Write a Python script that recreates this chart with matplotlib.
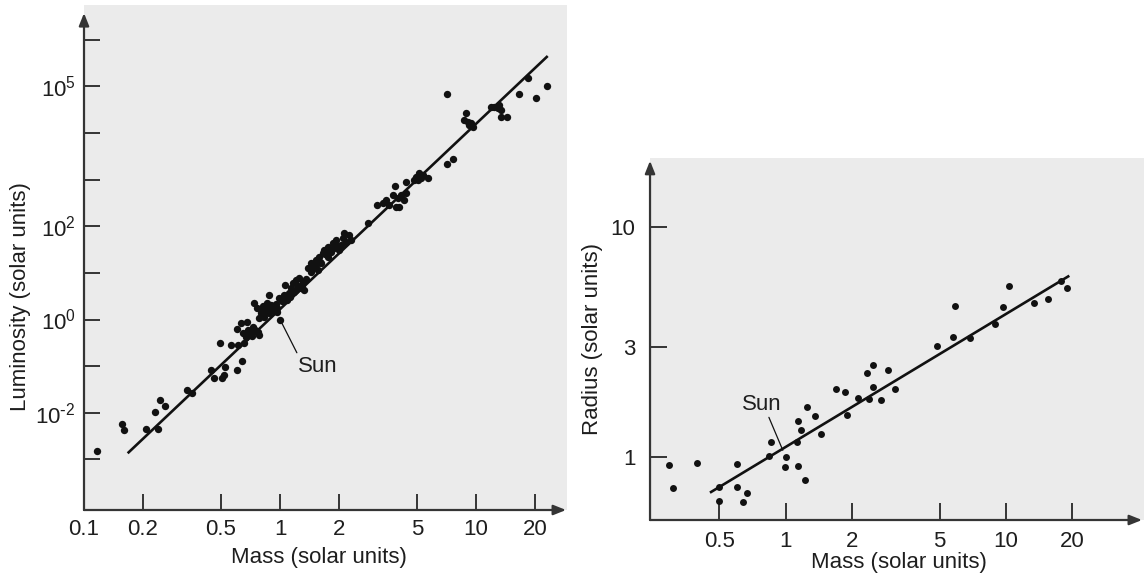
import matplotlib
matplotlib.use('Agg')
import matplotlib.pyplot as plt
from matplotlib.ticker import NullLocator

plt.rcParams['font.family'] = ['Liberation Sans', 'DejaVu Sans']
plt.rcParams['mathtext.default'] = 'regular'

# ---- mass-luminosity data (solar units) ----
lum_mass = [0.117, 0.156, 0.160, 0.207, 0.239, 0.231, 0.244, 0.258, 0.335, 0.356,
            0.445, 0.462, 0.506, 0.524, 0.520, 0.492, 0.562, 0.608, 0.638, 0.603,
            0.658, 0.632, 0.603, 0.647, 0.687, 0.711, 0.754, 0.671, 0.728, 0.781,
            0.739, 0.763, 0.800, 0.819, 0.858, 0.900, 0.932, 0.965, 0.879, 0.829,
            0.781, 0.876, 1.0, 0.992, 1.052, 1.095, 1.115, 1.064, 1.161, 1.207,
            1.254, 1.306, 1.280, 1.207, 1.138, 1.330, 1.384, 1.439, 1.496, 1.557,
            1.619, 1.439, 1.526, 1.587, 1.652, 1.683, 1.751, 1.820, 1.751, 1.857,
            1.931, 1.892, 2.007, 2.048, 2.128, 2.257, 2.302, 2.172, 2.822, 3.126,
            3.342, 3.474, 3.612, 3.876, 4.394, 3.758, 3.986, 4.143, 4.307, 4.394,
            3.907, 4.062, 4.941, 5.137, 5.042, 5.241, 5.346, 5.67, 4.843, 7.09,
            7.11, 7.66, 8.89, 8.714, 9.07, 9.43, 9.62, 9.24, 11.93, 12.40,
            13.15, 13.42, 12.90, 13.42, 14.39, 16.63, 18.49, 20.24, 22.95, 0.679,
            0.70, 0.74, 0.77, 0.72, 0.66, 0.84, 0.88, 0.92, 0.95, 0.86,
            0.80, 0.97, 1.02, 1.08, 1.12, 1.18, 1.24, 1.30, 1.35, 1.45,
            1.52, 1.60, 1.70, 1.78, 1.95, 2.10]
lum_lum = [0.00153, 0.00581, 0.0042, 0.00448, 0.00448, 0.0102, 0.0188, 0.0142, 0.0307, 0.0269,
           0.0825, 0.0564, 0.0548, 0.0971, 0.0645, 0.318, 0.284, 0.284, 0.129, 0.0825,
           0.309, 0.829, 0.616, 0.513, 0.595, 0.465, 0.567, 0.421, 0.690, 0.465,
           2.29, 1.765, 1.379, 1.948, 2.26, 2.05, 1.855, 1.449, 1.379, 1.13,
           1.077, 3.35, 1.0, 2.85, 3.35, 3.08, 3.65, 5.50, 5.98, 7.04,
           7.66, 6.47, 4.67, 4.30, 4.67, 4.30, 12.55, 10.6, 13.6, 11.5,
           16.1, 16.1, 18.9, 22.2, 26.3, 31.0, 22.2, 28.5, 36.5, 43.1,
           50.8, 33.7, 31.0, 39.7, 70.7, 65.0, 50.8, 46.7, 119, 286,
           321, 366, 286, 731, 905, 469, 398, 469, 366, 510,
           263, 263, 1158, 1370, 984, 1070, 1259, 1070, 984, 68900,
           2170, 2735, 26550, 19050, 17530, 16200, 13690, 14890, 36780, 35700,
           40000, 31240, 33970, 22440, 22440, 67860, 149600, 57370, 102200, 0.884,
           0.52, 0.62, 0.55, 0.44, 0.50, 1.55, 1.75, 1.6, 2.1, 2.0,
           1.6, 1.75, 2.5, 2.6, 3.0, 3.9, 5.2, 5.6, 7.5, 12.0,
           14.5, 17.5, 25.0, 30.0, 38.0, 55.0]
lum_fit_mass = [0.167, 23.2]
lum_fit_lum = [0.00135, 4.5e5]

lum_xticks = [0.1, 0.2, 0.5, 1, 2, 5, 10, 20]
lum_xlabels = ['0.1', '0.2', '0.5', '1', '2', '5', '10', '20']
lum_yticks = [1e-3, 1e-2, 1e-1, 1e0, 1e1, 1e2, 1e3, 1e4, 1e5, 1e6]
lum_ylabels = ['', r'$10^{\text{-}2}$', '', '$10^{0}$', '', '$10^{2}$', '', '',
               '$10^{5}$', '']

# ---- mass-radius data (solar units) ----
rad_mass = [0.297, 0.310, 0.396, 0.499, 0.499, 0.601, 0.601, 0.643, 0.667, 0.839,
            0.859, 0.992, 1.0, 1.124, 1.143, 1.143, 1.172, 1.226, 1.256, 1.365,
            1.449, 1.690, 1.862, 1.895, 2.126, 2.336, 2.400, 2.487, 2.503, 2.713,
            2.909, 3.149, 4.883, 5.736, 5.857, 6.873, 8.897, 9.73, 10.33, 13.41,
            15.57, 17.73, 18.88]
rad_radius = [0.920, 0.728, 0.936, 0.740, 0.643, 0.927, 0.736, 0.636, 0.697, 1.01,
              1.159, 0.902, 1.0, 1.155, 0.911, 1.431, 1.307, 0.794, 1.652, 1.509,
              1.260, 1.979, 1.920, 1.515, 1.797, 2.31, 1.789, 2.51, 2.019, 1.767,
              2.387, 1.967, 3.047, 3.315, 4.55, 3.282, 3.789, 4.507, 5.566, 4.691,
              4.869, 5.851, 5.422]
rad_fit_mass = [0.454, 19.4]
rad_fit_radius = [0.697, 6.15]

rad_xticks = [0.5, 1, 2, 5, 10, 20]
rad_xlabels = ['0.5', '1', '2', '5', '10', '20']
rad_yticks = [1, 3, 10]
rad_ylabels = ['1', '3', '10']

sun_mass, sun_value = 1.0, 1.0

BG = '#ebebeb'
INK = '#111111'
AXC = '#353535'
TXT = '#1e1e1e'
FS = 16


def style_axes(ax, xlim, ylim, xtip, ytip, ticklen, xpad, ypad):
    """log-log axes with arrow-headed axis lines and inward ticks"""
    ax.set_xscale('log')
    ax.set_yscale('log')
    ax.set_xlim(*xlim)
    ax.set_ylim(*ylim)
    ax.set_facecolor(BG)
    for s in ax.spines.values():
        s.set_visible(False)
    arrow = dict(arrowstyle='-|>,head_length=0.75,head_width=0.3',
                 color=AXC, lw=1.6, shrinkA=0, shrinkB=0)
    ax.annotate('', xy=(0, ytip), xytext=(0, 0), xycoords='axes fraction',
                arrowprops=arrow)
    ax.annotate('', xy=(xtip, 0), xytext=(0, 0), xycoords='axes fraction',
                arrowprops=arrow)
    ax.xaxis.set_minor_locator(NullLocator())
    ax.yaxis.set_minor_locator(NullLocator())
    ax.tick_params(which='major', direction='in', length=ticklen, width=1.4,
                   color=AXC, labelsize=FS, labelcolor=TXT)
    ax.tick_params(axis='x', pad=xpad)
    ax.tick_params(axis='y', pad=ypad)


fig = plt.figure(figsize=(11.44, 5.81), dpi=100)

# 左图: 质光关系
ax1 = fig.add_axes([0.07343, 0.1222, 0.4222, 0.8692])
style_axes(ax1, (0.1, 29.1), (10 ** -4.087, 10 ** 6.748), 0.998, 0.984,
           11.5, 6.5, 6)
ax1.set_xticks(lum_xticks, lum_xlabels)
ax1.set_yticks(lum_yticks, lum_ylabels)
ax1.xaxis.get_major_ticks()[0].tick1line.set_visible(False)
ax1.plot(lum_fit_mass, lum_fit_lum, color=INK, lw=1.9, solid_capstyle='butt')
ax1.plot(lum_mass, lum_lum, 'o', ms=5.3, mew=0, color=INK)
ax1.annotate('Sun', xy=(sun_mass, sun_value), xytext=(27.4, -33.5),
             textcoords='offset points', ha='center', va='center',
             fontsize=FS, color=TXT,
             arrowprops=dict(arrowstyle='-', lw=0.9, color=INK, shrinkA=0,
                             shrinkB=2, relpos=(0.0, 1.0)))
ax1.set_xlabel('Mass (solar units)', fontsize=FS, color=TXT)
ax1.set_ylabel('Luminosity (solar units)', fontsize=FS, color=TXT)
ax1.xaxis.set_label_coords(0.4865, -0.073)
ax1.yaxis.set_label_coords(-0.11, 0.4218)

# 右图: 质量-半径关系
ax2 = fig.add_axes([0.5682, 0.10499, 0.4318, 0.62255])
style_axes(ax2, (0.2427, 42.33), (0.5297, 19.99), 0.996, 0.993,
           12, 8, 10.5)
ax2.set_xticks(rad_xticks, rad_xlabels)
ax2.set_yticks(rad_yticks, rad_ylabels)
ax2.plot(rad_fit_mass, rad_fit_radius, color=INK, lw=1.9, solid_capstyle='butt')
ax2.plot(rad_mass, rad_radius, 'o', ms=5.0, mew=0, color=INK)
ax2.annotate('Sun', xy=(sun_mass, sun_value), xytext=(-17.1, 37.9),
             textcoords='offset points', ha='center', va='center',
             fontsize=FS, color=TXT,
             arrowprops=dict(arrowstyle='-', lw=0.9, color=INK, shrinkA=0,
                             shrinkB=5, relpos=(0.65, 0.0)))
ax2.set_xlabel('Mass (solar units)', fontsize=FS, color=TXT)
ax2.set_ylabel('Radius (solar units)', fontsize=FS, color=TXT)
ax2.xaxis.set_label_coords(0.504, -0.089)
ax2.yaxis.set_label_coords(-0.0945, 0.5004)

fig.savefig('out.png', dpi=100)
plt.close(fig)
